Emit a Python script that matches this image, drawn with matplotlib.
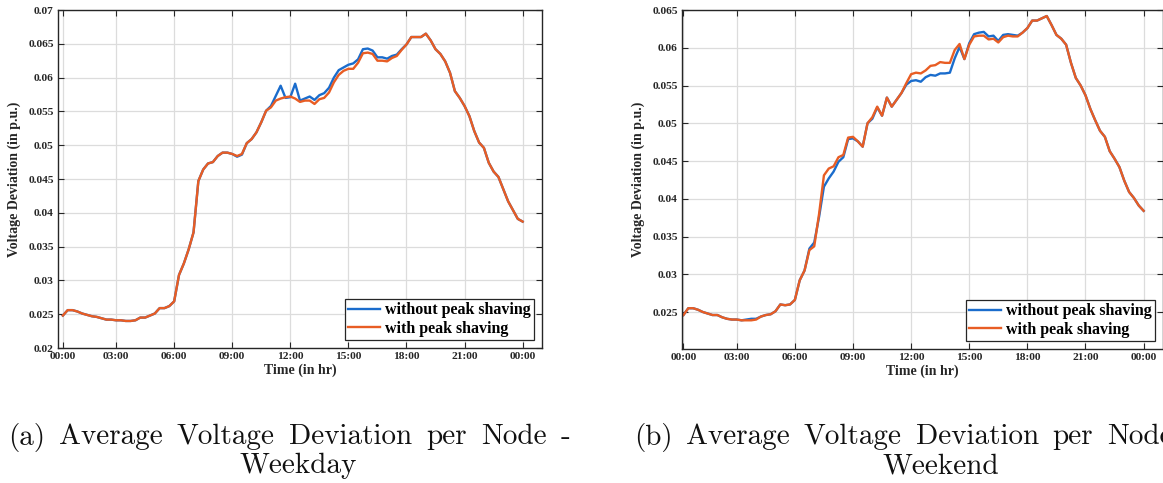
import numpy as np
import matplotlib
matplotlib.use('Agg')
import matplotlib.pyplot as plt

# 15-minute slots over one day, index 1..96
slots = np.arange(1, 97)
tick_pos = [1, 12, 24, 36, 48, 60, 72, 84, 96]
tick_labels = ['00:00', '03:00', '06:00', '09:00', '12:00', '15:00', '18:00', '21:00', '00:00']

# Weekday average voltage deviation (p.u.)
weekday_no_ps = [
    0.0248, 0.0256, 0.0256, 0.0254, 0.0251, 0.0249, 0.0247, 0.0246, 0.0244, 0.0242,
    0.0242, 0.0241, 0.0241, 0.0240, 0.0240, 0.0241, 0.0245, 0.0245, 0.0248, 0.0251,
    0.0259, 0.0259, 0.0262, 0.0269, 0.0308, 0.0325, 0.0346, 0.0371, 0.0447, 0.0464,
    0.0473, 0.0475, 0.0484, 0.0489, 0.0489, 0.0487, 0.0483, 0.0486, 0.0503, 0.0509,
    0.0519, 0.0534, 0.0551, 0.0558, 0.0573, 0.0588, 0.0570, 0.0571, 0.0591, 0.0566,
    0.0569, 0.0572, 0.0567, 0.0574, 0.0577, 0.0585, 0.0600, 0.0611, 0.0615, 0.0619,
    0.0621, 0.0627, 0.0642, 0.0643, 0.0640, 0.0630, 0.0630, 0.0628, 0.0632, 0.0634,
    0.0642, 0.0649, 0.0660, 0.0660, 0.0660, 0.0665, 0.0655, 0.0642, 0.0635, 0.0624,
    0.0607, 0.0580, 0.0570, 0.0558, 0.0543, 0.0521, 0.0504, 0.0496, 0.0474, 0.0461,
    0.0453, 0.0435, 0.0417, 0.0404, 0.0391, 0.0387]
weekday_ps = [
    0.0248, 0.0256, 0.0256, 0.0254, 0.0251, 0.0249, 0.0247, 0.0246, 0.0244, 0.0242,
    0.0242, 0.0241, 0.0241, 0.0240, 0.0240, 0.0241, 0.0245, 0.0245, 0.0248, 0.0251,
    0.0259, 0.0259, 0.0262, 0.0269, 0.0308, 0.0325, 0.0346, 0.0371, 0.0447, 0.0464,
    0.0473, 0.0475, 0.0484, 0.0489, 0.0489, 0.0487, 0.0484, 0.0487, 0.0503, 0.0509,
    0.0519, 0.0534, 0.0551, 0.0556, 0.0566, 0.0569, 0.0571, 0.0572, 0.0569, 0.0564,
    0.0566, 0.0566, 0.0561, 0.0568, 0.0570, 0.0578, 0.0593, 0.0604, 0.0610, 0.0613,
    0.0613, 0.0622, 0.0636, 0.0637, 0.0635, 0.0625, 0.0625, 0.0624, 0.0629, 0.0632,
    0.0641, 0.0649, 0.0660, 0.0660, 0.0660, 0.0665, 0.0655, 0.0642, 0.0635, 0.0624,
    0.0607, 0.0580, 0.0570, 0.0558, 0.0543, 0.0521, 0.0504, 0.0496, 0.0474, 0.0461,
    0.0453, 0.0435, 0.0417, 0.0404, 0.0391, 0.0387]

# Weekend average voltage deviation (p.u.)
weekend_no_ps = [
    0.0246, 0.0255, 0.0255, 0.0253, 0.0250, 0.0248, 0.0246, 0.0246, 0.0243, 0.0241,
    0.0240, 0.0240, 0.0239, 0.0240, 0.0241, 0.0241, 0.0244, 0.0246, 0.0247, 0.0251,
    0.0260, 0.0259, 0.0260, 0.0266, 0.0292, 0.0305, 0.0334, 0.0342, 0.0376, 0.0416,
    0.0427, 0.0436, 0.0449, 0.0455, 0.0479, 0.0480, 0.0476, 0.0469, 0.0500, 0.0506,
    0.0521, 0.0510, 0.0534, 0.0522, 0.0531, 0.0540, 0.0551, 0.0556, 0.0557, 0.0555,
    0.0561, 0.0564, 0.0563, 0.0566, 0.0566, 0.0567, 0.0586, 0.0601, 0.0585, 0.0606,
    0.0618, 0.0620, 0.0621, 0.0615, 0.0616, 0.0609, 0.0617, 0.0618, 0.0617, 0.0616,
    0.0620, 0.0626, 0.0636, 0.0636, 0.0639, 0.0642, 0.0630, 0.0617, 0.0612, 0.0604,
    0.0580, 0.0560, 0.0550, 0.0537, 0.0519, 0.0504, 0.0490, 0.0482, 0.0463, 0.0453,
    0.0442, 0.0424, 0.0409, 0.0401, 0.0391, 0.0384]
weekend_ps = [
    0.0246, 0.0255, 0.0255, 0.0253, 0.0250, 0.0248, 0.0246, 0.0246, 0.0243, 0.0241,
    0.0240, 0.0240, 0.0239, 0.0239, 0.0239, 0.0240, 0.0244, 0.0246, 0.0247, 0.0251,
    0.0260, 0.0259, 0.0260, 0.0266, 0.0292, 0.0305, 0.0332, 0.0337, 0.0380, 0.0431,
    0.0440, 0.0443, 0.0455, 0.0458, 0.0481, 0.0482, 0.0476, 0.0469, 0.0500, 0.0508,
    0.0522, 0.0510, 0.0534, 0.0522, 0.0531, 0.0540, 0.0553, 0.0565, 0.0567, 0.0566,
    0.0570, 0.0576, 0.0577, 0.0581, 0.0580, 0.0580, 0.0597, 0.0605, 0.0585, 0.0604,
    0.0615, 0.0616, 0.0616, 0.0611, 0.0612, 0.0607, 0.0614, 0.0616, 0.0615, 0.0615,
    0.0620, 0.0626, 0.0636, 0.0636, 0.0639, 0.0642, 0.0630, 0.0617, 0.0612, 0.0604,
    0.0580, 0.0560, 0.0550, 0.0537, 0.0519, 0.0504, 0.0490, 0.0482, 0.0463, 0.0453,
    0.0442, 0.0424, 0.0409, 0.0401, 0.0391, 0.0384]

weekday_yticks = [0.02, 0.025, 0.03, 0.035, 0.04, 0.045, 0.05, 0.055, 0.06, 0.065, 0.07]
weekend_yticks = [0.025, 0.03, 0.035, 0.04, 0.045, 0.05, 0.055, 0.06, 0.065]

BLUE = '#1a6ccc'
ORANGE = '#e85d24'
TNR = 'Liberation Serif'
W, H = 1163, 483


def draw_panel(ax, no_ps, ps, yticks, xlim, ylim):
    ax.plot(slots, no_ps, color=BLUE, lw=1.7, label='without peak shaving')
    ax.plot(slots, ps, color=ORANGE, lw=1.7, label='with peak shaving')
    ax.set_xlim(*xlim)
    ax.set_ylim(*ylim)
    ax.set_xticks(tick_pos)
    ax.set_xticklabels(tick_labels)
    ax.set_yticks(yticks)
    ax.set_yticklabels([('%.3f' % t).rstrip('0') for t in yticks])
    for lab in ax.get_xticklabels() + ax.get_yticklabels():
        lab.set_fontfamily(TNR)
        lab.set_fontweight('bold')
        lab.set_fontsize(8.2)
        lab.set_color('#262626')
    ax.tick_params(direction='in', length=4, width=0.8, top=True, right=True,
                   colors='#262626', pad=3)
    ax.grid(True, color='#dcdcdc', lw=0.9)
    ax.set_axisbelow(True)
    for sp in ax.spines.values():
        sp.set_color('#262626')
        sp.set_linewidth(1.0)
    ax.set_xlabel('Time (in hr)', fontfamily=TNR, fontweight='bold', fontsize=10,
                  color='#262626', labelpad=2)
    ax.set_ylabel('Voltage Deviation (in p.u.)', fontfamily=TNR, fontweight='bold',
                  fontsize=10, color='#262626', labelpad=5)
    leg = ax.legend(loc='lower right', prop={'family': TNR, 'weight': 'bold', 'size': 11.5},
                    handlelength=2.0, handletextpad=0.3, borderpad=0.2,
                    labelspacing=0.15, borderaxespad=0.5, fancybox=False,
                    framealpha=1.0, edgecolor='#262626')
    leg.get_frame().set_linewidth(0.9)


def justified_line(fig, words, x0, x1, y, **kw):
    # spread the words so the line fills x0..x1 (pixels), like a justified paragraph line
    renderer = fig.canvas.get_renderer()
    texts = [fig.text(0, 1 - y / H, w, ha='left', va='center', **kw) for w in words]
    widths = [t.get_window_extent(renderer).width for t in texts]
    gap = (x1 - x0 - sum(widths)) / (len(words) - 1)
    x = x0
    for t, w in zip(texts, widths):
        t.set_x(x / W)
        x += w + gap


def main():
    fig = plt.figure(figsize=(W / 100, H / 100), dpi=100)

    ax1 = fig.add_axes([58 / W, 1 - 348 / H, 484 / W, 338 / H])
    draw_panel(ax1, weekday_no_ps, weekday_ps, weekday_yticks, (0, 100), (0.02, 0.07))

    ax2 = fig.add_axes([682 / W, 1 - 349 / H, 481 / W, 339 / H])
    draw_panel(ax2, weekend_no_ps, weekend_ps, weekend_yticks, (0.7, 100), (0.0201, 0.065))

    # sub-figure captions
    cap = dict(family=['cmr10', 'DejaVu Serif'], fontsize=21, color='#111111')
    justified_line(fig, '(a) Average Voltage Deviation per Node -'.split(), 8, 570, 437, **cap)
    fig.text(298 / W, 1 - 466 / H, 'Weekday', ha='center', va='center', **cap)
    justified_line(fig, '(b) Average Voltage Deviation per Node -'.split(), 634, 1196, 437, **cap)
    fig.text(941 / W, 1 - 466 / H, 'Weekend', ha='center', va='center', **cap)

    fig.savefig('out.png', dpi=100)


if __name__ == "__main__":
    main()
